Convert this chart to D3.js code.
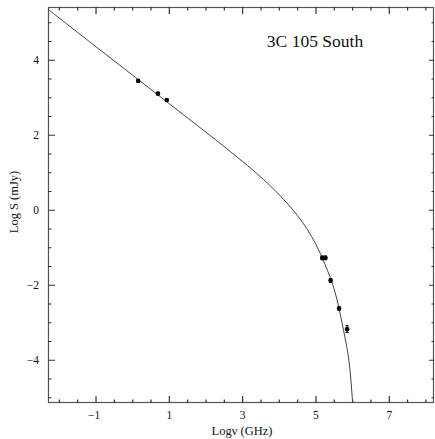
<!DOCTYPE html>
<html>
<head>
<meta charset="utf-8">
<script src="https://cdn.jsdelivr.net/npm/d3@7"></script>
<style>
  html, body { margin: 0; padding: 0; background: #fff; }
  svg { display: block; }
  text { font-family: "Liberation Serif", "Times New Roman", serif; fill: #111; }
</style>
</head>
<body>
<svg id="chart" width="435" height="439"></svg>
<script>
// ---- data ----
const title = "3C 105 South";
const xLabel = "Logν (GHz)";
const yLabel = "Log S (mJy)";

// observed points (log ν, log S) with y error
const obsX = [0.15, 0.69, 0.93, 5.17, 5.26, 5.40, 5.63, 5.85];
const obsY = [3.45, 3.11, 2.94, -1.27, -1.27, -1.87, -2.62, -3.17];
const obsErr = [0.03, 0.03, 0.03, 0.05, 0.05, 0.05, 0.05, 0.09];

// model curve
const modelX = [-2.31, -1.0, 0.0, 1.0, 2.0, 2.5, 3.0, 3.5, 3.75, 4.0, 4.25, 4.5, 4.75, 5.0, 5.25, 5.5, 5.75, 5.9, 6.0, 6.05];
const modelY = [5.36, 4.36, 3.60, 2.84, 2.08, 1.695, 1.30, 0.88, 0.655, 0.41, 0.145, -0.15, -0.49, -0.915, -1.45, -2.115, -3.19, -4.015, -5.135, -5.9];

const xMajor = [-1, 1, 3, 5, 7];
const yMajor = [-4, -2, 0, 2, 4];
const xMinor = [-2, -1.5, -0.5, 0, 0.5, 1.5, 2, 2.5, 3.5, 4, 4.5, 5.5, 6, 6.5, 7.5, 8];
const yMinor = [-5, -4.5, -3.5, -3, -2.5, -1.5, -1, -0.5, 0.5, 1, 1.5, 2.5, 3, 3.5, 4.5, 5];

// ---- layout ----
const L = 48, T = 7, R = 434, B = 403;
const svg = d3.select("#chart");
const x = d3.scaleLinear().domain([-2.31, 8.22]).range([L, R]);
const y = d3.scaleLinear().domain([-5.14, 5.42]).range([B, T]);
const axisColor = "#555";
const fmt = d => d < 0 ? "\u2212" + Math.abs(d) : String(d);

// frame
svg.append("rect").attr("x", L + 0.5).attr("y", T + 0.5).attr("width", R - L - 1).attr("height", B - T - 1)
  .attr("fill", "none").attr("stroke", axisColor).attr("stroke-width", 1.2);

// inward ticks on all four sides, built from the scales
function xTickPath(vals, len) {
  return vals.map(v => `M${x(v)},${B}V${B - len}M${x(v)},${T}V${T + len}`).join("");
}
function yTickPath(vals, lenL, lenR) {
  return vals.map(v => `M${L},${y(v)}H${L + lenL}M${R},${y(v)}H${R - lenR}`).join("");
}
const tickD = xTickPath(xMinor, 3.5) + xTickPath(xMajor, 7) + yTickPath(yMinor, 3.5, 2.5) + yTickPath(yMajor, 7, 5);
svg.append("path").attr("d", tickD).attr("fill", "none")
  .attr("stroke", "#333").attr("stroke-width", 1.2);

// tick labels
svg.append("g").selectAll("text").data(xMajor).join("text")
  .attr("x", d => x(d) + (d < 0 ? -2 : 0)).attr("y", 419)
  .attr("text-anchor", "middle").style("font-size", "11.5px").text(fmt);
svg.append("g").selectAll("text").data(yMajor).join("text")
  .attr("x", 39).attr("y", d => y(d) + 4)
  .attr("text-anchor", "end").style("font-size", "11.5px").text(fmt);

// clip
svg.append("clipPath").attr("id", "clip").append("rect")
  .attr("x", L).attr("y", T).attr("width", R - L).attr("height", B - T);

// model curve
const model = modelX.map((v, i) => [v, modelY[i]]);
svg.append("path").datum(model)
  .attr("clip-path", "url(#clip)")
  .attr("fill", "none").attr("stroke", "#444").attr("stroke-width", 1)
  .attr("d", d3.line().x(d => x(d[0])).y(d => y(d[1])).curve(d3.curveCatmullRom.alpha(0.5)));

// observations
const obs = obsX.map((v, i) => ({ x: v, y: obsY[i], e: obsErr[i] }));
const og = svg.append("g");
og.selectAll("line.err").data(obs).join("line").attr("class", "err")
  .attr("x1", d => x(d.x)).attr("x2", d => x(d.x))
  .attr("y1", d => y(d.y + d.e)).attr("y2", d => y(d.y - d.e))
  .attr("stroke", "#000").attr("stroke-width", 1);
og.selectAll("line.cap").data(obs.flatMap(d => [[d, d.y + d.e], [d, d.y - d.e]])).join("line").attr("class", "cap")
  .attr("x1", d => x(d[0].x) - 1.5).attr("x2", d => x(d[0].x) + 1.5)
  .attr("y1", d => y(d[1])).attr("y2", d => y(d[1]))
  .attr("stroke", "#000").attr("stroke-width", 1);
og.selectAll("circle").data(obs).join("circle")
  .attr("cx", d => x(d.x)).attr("cy", d => y(d.y)).attr("r", 2.3).attr("fill", "#000");

// title
svg.append("text").attr("x", 315).attr("y", 46.5).attr("text-anchor", "middle")
  .style("font-size", "17.5px").text(title);

// axis labels
svg.append("text").attr("x", (L + R) / 2 + 1).attr("y", 435).attr("text-anchor", "middle")
  .style("font-size", "12.5px").text(xLabel);
svg.append("text").attr("transform", `translate(18,202) rotate(-90)`)
  .attr("text-anchor", "middle").style("font-size", "12.5px").text(yLabel);
</script>
</body>
</html>
